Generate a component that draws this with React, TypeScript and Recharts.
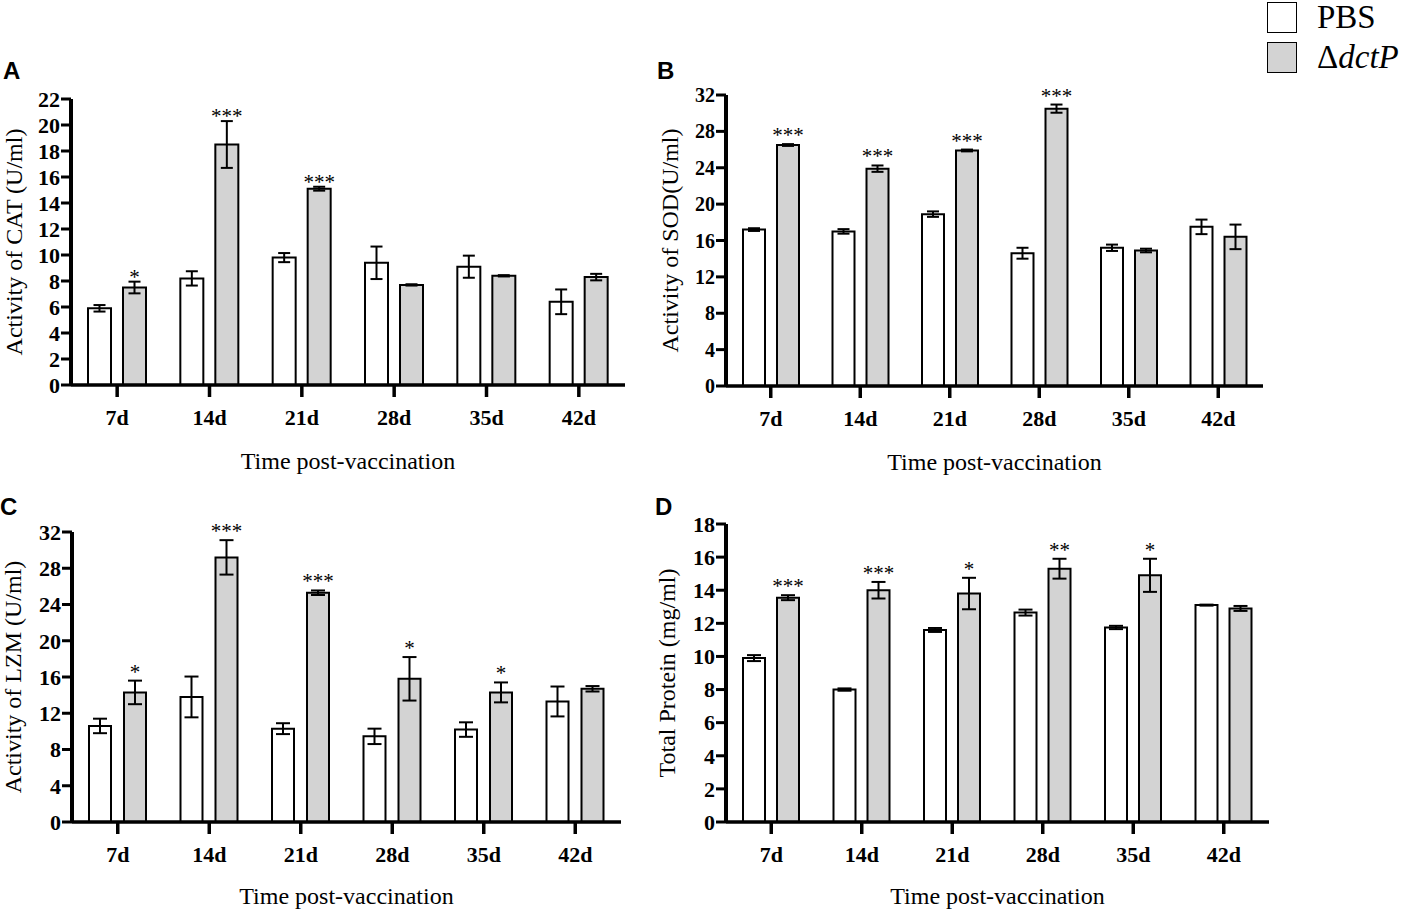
import React from 'react';
import { BarChart, Bar, XAxis, YAxis, ErrorBar, LabelList } from 'recharts';

const SERIF = '"Liberation Serif", "Times New Roman", serif';
const SANS = '"Liberation Sans", Arial, sans-serif';
const GREY = '#d3d3d3';

const days = ['7d', '14d', '21d', '28d', '35d', '42d'];

// A - CAT
const catTicks = [0, 2, 4, 6, 8, 10, 12, 14, 16, 18, 20, 22];
const catPbs = [5.9, 8.2, 9.8, 9.4, 9.1, 6.4];
const catPbsErr = [0.25, 0.55, 0.35, 1.25, 0.85, 0.95];
const catDctp = [7.5, 18.5, 15.1, 7.7, 8.4, 8.3];
const catDctpErr = [0.45, 1.8, 0.15, 0.05, 0.05, 0.25];
const catStars = ['*', '***', '***', '', '', ''];

// B - SOD
const sodTicks = [0, 4, 8, 12, 16, 20, 24, 28, 32];
const sodPbs = [17.2, 17.0, 18.9, 14.6, 15.2, 17.5];
const sodPbsErr = [0.15, 0.25, 0.3, 0.6, 0.35, 0.8];
const sodDctp = [26.5, 23.9, 25.9, 30.5, 14.9, 16.4];
const sodDctpErr = [0.1, 0.35, 0.1, 0.45, 0.2, 1.35];
const sodStars = ['***', '***', '***', '***', '', ''];

// C - LZM
const lzmTicks = [0, 4, 8, 12, 16, 20, 24, 28, 32];
const lzmPbs = [10.6, 13.8, 10.3, 9.45, 10.2, 13.3];
const lzmPbsErr = [0.8, 2.25, 0.6, 0.85, 0.8, 1.65];
const lzmDctp = [14.3, 29.2, 25.3, 15.8, 14.3, 14.7];
const lzmDctpErr = [1.3, 1.9, 0.25, 2.4, 1.1, 0.3];
const lzmStars = ['*', '***', '***', '*', '*', ''];

// D - total protein
const tpTicks = [0, 2, 4, 6, 8, 10, 12, 14, 16, 18];
const tpPbs = [9.9, 8.0, 11.6, 12.65, 11.75, 13.1];
const tpPbsErr = [0.18, 0.07, 0.12, 0.18, 0.1, 0.03];
const tpDctp = [13.55, 14.0, 13.8, 15.3, 14.9, 12.9];
const tpDctpErr = [0.15, 0.5, 0.95, 0.6, 1.0, 0.15];
const tpStars = ['***', '***', '*', '**', '*', ''];

// star text sits just above the top of the error bar
const starLabel = (vals: number[], errs: number[], gap: number) => (props: any) => {
  const { index, value } = props;
  if (!value) return null;
  const vb = props.viewBox ?? props;
  const top = Math.min(vb.y, vb.y + vb.height);
  const h = Math.abs(vb.height);
  const errTop = top - errs[index] * (h / vals[index]);
  return (
    <text
      x={vb.x + vb.width / 2}
      y={errTop - gap}
      textAnchor='middle'
      fontSize={21}
      fontFamily={SERIF}
      fill='#000'
    >
      {value}
    </text>
  );
};

type PanelProps = {
  left: number;
  top: number;
  width: number;
  height: number;
  plot: [number, number, number, number]; // left, right, top, bottom (page px)
  ticks: number[];
  yLabel: string;
  yLabelX: number;
  yFont: number;
  pbs: number[];
  pbsErr: number[];
  dctp: number[];
  dctpErr: number[];
  stars: string[];
  starGap: number;
  barSize: number;
  barGap: number;
  cap: number;
  titleOffset: number;
};

function Panel(p: PanelProps) {
  const [pl, pr, pt, pb] = p.plot;
  const rows = days.map((day, i) => ({
    day,
    pbs: p.pbs[i],
    pbsErr: p.pbsErr[i],
    dctp: p.dctp[i],
    dctpErr: p.dctpErr[i],
    stars: p.stars[i],
  }));
  const max = p.ticks[p.ticks.length - 1];

  return (
    <div style={{ position: 'absolute', left: p.left, top: p.top }}>
      <BarChart
        width={p.width}
        height={p.height}
        data={rows}
        barSize={p.barSize}
        barGap={p.barGap}
        margin={{ top: pt - p.top, right: p.left + p.width - pr, left: 0, bottom: 0 }}
      >
        <XAxis
          dataKey='day'
          interval={0}
          height={p.top + p.height - pb}
          tickSize={12}
          tickMargin={12}
          axisLine={{ stroke: '#000', strokeWidth: 3.5 }}
          tickLine={{ stroke: '#000', strokeWidth: 3.5 }}
          tick={{ fill: '#000', fontSize: 22, fontWeight: 700, fontFamily: SERIF }}
          label={{
            value: 'Time post-vaccination',
            position: 'insideBottom',
            offset: p.titleOffset,
            style: { fill: '#000', fontSize: 24, fontFamily: SERIF },
          }}
        />
        <YAxis
          type='number'
          domain={[0, max]}
          ticks={p.ticks}
          interval={0}
          width={pl - p.left}
          tickSize={10}
          tickMargin={1}
          axisLine={{ stroke: '#000', strokeWidth: 4 }}
          tickLine={{ stroke: '#000', strokeWidth: 3 }}
          tick={{ fill: '#000', fontSize: p.yFont, fontWeight: 700, fontFamily: SERIF }}
          label={{
            value: p.yLabel,
            angle: -90,
            position: 'insideLeft',
            offset: p.yLabelX,
            style: { textAnchor: 'middle', fill: '#000', fontSize: 24, fontFamily: SERIF },
          }}
        />
        <Bar dataKey='pbs' fill='#fff' stroke='#000' strokeWidth={2} isAnimationActive={false}>
          <ErrorBar dataKey='pbsErr' width={p.cap} stroke='#000' strokeWidth={2} isAnimationActive={false} />
        </Bar>
        <Bar dataKey='dctp' fill={GREY} stroke='#000' strokeWidth={2} isAnimationActive={false}>
          <ErrorBar dataKey='dctpErr' width={p.cap} stroke='#000' strokeWidth={2} isAnimationActive={false} />
          <LabelList dataKey='stars' content={starLabel(p.dctp, p.dctpErr, p.starGap)} />
        </Bar>
      </BarChart>
    </div>
  );
}

function Letter({ x, y, text }: { x: number; y: number; text: string }) {
  return (
    <div
      style={{
        position: 'absolute',
        left: x,
        top: y,
        fontFamily: SANS,
        fontWeight: 700,
        fontSize: 24,
        lineHeight: '24px',
        color: '#000',
      }}
    >
      {text}
    </div>
  );
}

function LegendBox({ y, fill, children }: { y: number; fill: string; children: React.ReactNode }) {
  return (
    <>
      <div
        style={{
          position: 'absolute',
          left: 1267,
          top: y,
          width: 28,
          height: 29,
          background: fill,
          border: '1.5px solid #000',
        }}
      />
      <div
        style={{
          position: 'absolute',
          left: 1317,
          top: y - 1,
          fontFamily: SERIF,
          fontSize: 33,
          lineHeight: '33px',
          color: '#000',
          whiteSpace: 'nowrap',
        }}
      >
        {children}
      </div>
    </>
  );
}

export default function App() {
  return (
    <div style={{ position: 'absolute', left: 0, top: 0, width: 1417, height: 914, background: '#fff' }}>
      <Panel
        left={0}
        top={0}
        width={640}
        height={480}
        plot={[71, 625, 99, 385]}
        ticks={catTicks}
        yLabel='Activity of CAT (U/ml)'
        yLabelX={13}
        yFont={22}
        pbs={catPbs}
        pbsErr={catPbsErr}
        dctp={catDctp}
        dctpErr={catDctpErr}
        stars={catStars}
        starGap={-2}
        barSize={23}
        barGap={12}
        cap={6}
        titleOffset={11}
      />
      <Panel
        left={640}
        top={0}
        width={777}
        height={480}
        plot={[726, 1263, 95, 386]}
        ticks={sodTicks}
        yLabel='Activity of SOD(U/ml)'
        yLabelX={29}
        yFont={20}
        pbs={sodPbs}
        pbsErr={sodPbsErr}
        dctp={sodDctp}
        dctpErr={sodDctpErr}
        stars={sodStars}
        starGap={2}
        barSize={22}
        barGap={12}
        cap={6}
        titleOffset={10}
      />
      <Panel
        left={0}
        top={480}
        width={640}
        height={434}
        plot={[72, 621, 532, 822]}
        ticks={lzmTicks}
        yLabel='Activity of LZM (U/ml)'
        yLabelX={12}
        yFont={22}
        pbs={lzmPbs}
        pbsErr={lzmPbsErr}
        dctp={lzmDctp}
        dctpErr={lzmDctpErr}
        stars={lzmStars}
        starGap={2}
        barSize={22}
        barGap={13}
        cap={7}
        titleOffset={10}
      />
      <Panel
        left={640}
        top={480}
        width={777}
        height={434}
        plot={[726, 1269, 524, 822]}
        ticks={tpTicks}
        yLabel='Total Protein (mg/ml)'
        yLabelX={26}
        yFont={22}
        pbs={tpPbs}
        pbsErr={tpPbsErr}
        dctp={tpDctp}
        dctpErr={tpDctpErr}
        stars={tpStars}
        starGap={2}
        barSize={22}
        barGap={12}
        cap={7}
        titleOffset={10}
      />

      <Letter x={3} y={59} text='A' />
      <Letter x={657} y={59} text='B' />
      <Letter x={0} y={495} text='C' />
      <Letter x={655} y={495} text='D' />

      <LegendBox y={2} fill='#fff'>PBS</LegendBox>
      <LegendBox y={42} fill={GREY}>
        Δ<i>dctP</i>
      </LegendBox>
    </div>
  );
}
